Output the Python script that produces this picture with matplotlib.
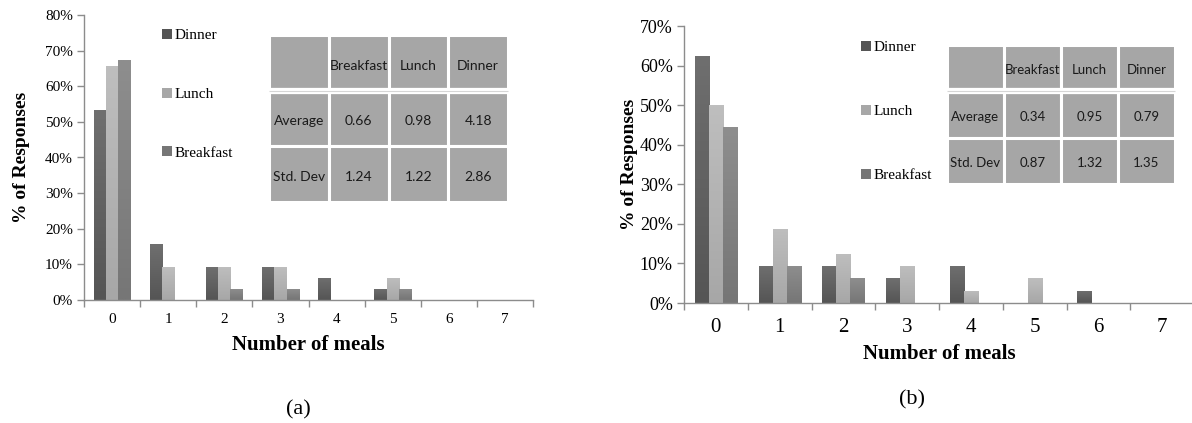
import matplotlib
matplotlib.use("Agg")
import matplotlib.pyplot as plt
from matplotlib.patches import Rectangle
from matplotlib.ticker import FuncFormatter, FixedLocator
import numpy as np

# ---- data -------------------------------------------------------------
meals = [0, 1, 2, 3, 4, 5, 6, 7]
series = ["Dinner", "Lunch", "Breakfast"]

a_dinner = [53.3, 15.6, 9.4, 9.4, 6.3, 3.1, 0, 0]
a_lunch = [65.6, 9.4, 9.4, 9.4, 0, 6.3, 0, 0]
a_breakfast = [67.4, 0, 3.1, 3.1, 0, 3.1, 0, 0]

b_dinner = [62.5, 9.4, 9.4, 6.3, 9.4, 0, 3.1, 0]
b_lunch = [50.0, 18.8, 12.5, 9.4, 3.1, 6.3, 0, 0]
b_breakfast = [44.4, 9.4, 6.3, 0, 0, 0, 0, 0]

table_cols = ["Breakfast", "Lunch", "Dinner"]
table_rows = ["Average", "Std. Dev"]
a_stats = [["0.66", "0.98", "4.18"], ["1.24", "1.22", "2.86"]]
b_stats = [["0.34", "0.95", "0.79"], ["0.87", "1.32", "1.35"]]

# ---- styling ----------------------------------------------------------
W, H = 1192, 423
SERIF = ["Liberation Serif", "DejaVu Serif"]
TABLE_FONT = ["Lato", "DejaVu Sans"]

# (bottom, top) shades of each series' vertical gradient
shades = {
    "Dinner": ("#555555", "#6f6f6f"),
    "Lunch": ("#a7a7a7", "#bebebe"),
    "Breakfast": ("#767676", "#8e8e8e"),
}
axis_grey = "#8c8c8c"

fig = plt.figure(figsize=(W / 100, H / 100), dpi=100)


def px_rect(x0, y_top, x1, y_bottom):
    return [x0 / W, 1 - y_bottom / H, (x1 - x0) / W, (y_bottom - y_top) / H]


def gradient_bars(ax, x, heights, width, name):
    bars = ax.bar(x, heights, width=width, color=shades[name][0], linewidth=0, label=name)
    lo = np.array(matplotlib.colors.to_rgb(shades[name][0]))
    hi = np.array(matplotlib.colors.to_rgb(shades[name][1]))
    t = np.linspace(0, 1, 64)[:, None]
    img = (lo + (hi - lo) * t)[:, None, :]
    for b in bars:
        h = b.get_height()
        if h <= 0:
            continue
        x0 = b.get_x()
        im = ax.imshow(img, extent=(x0, x0 + b.get_width(), 0, h), origin="lower",
                       aspect="auto", zorder=2, interpolation="bilinear")
        im.set_clip_path(b)
    return bars


def draw_chart(rect, data, ymax, tick_fs, xtick_fs, label_fs, xlabel_pad, xtick_pad):
    ax = fig.add_axes(rect)
    w = 0.22
    offsets = [-w, 0, w]
    handles = []
    for name, vals, off in zip(series, data, offsets):
        handles.append(gradient_bars(ax, np.array(meals) + off, vals, w, name))
    ax.set_xlim(-0.5, len(meals) - 0.5)
    ax.set_ylim(0, ymax)
    ax.set_yticks(np.arange(0, ymax + 1, 10))
    ax.yaxis.set_major_formatter(FuncFormatter(lambda v, _: f"{v:.0f}%"))
    ax.set_xticks(meals)
    ax.set_xticklabels([str(m) for m in meals])
    ax.xaxis.set_minor_locator(FixedLocator(np.arange(-0.5, len(meals), 1.0)))
    ax.tick_params(axis="x", which="major", length=0, labelsize=xtick_fs, pad=xtick_pad)
    ax.tick_params(axis="x", which="minor", length=5, width=1, color=axis_grey, direction="out")
    ax.tick_params(axis="y", length=5, width=1, color=axis_grey, labelsize=tick_fs, pad=3)
    for lab in ax.get_xticklabels() + ax.get_yticklabels():
        lab.set_fontfamily(SERIF)
    for s in ("top", "right"):
        ax.spines[s].set_visible(False)
    for s in ("left", "bottom"):
        ax.spines[s].set_color(axis_grey)
        ax.spines[s].set_linewidth(1)
    ax.set_ylabel("% of Responses", fontsize=label_fs, fontweight="bold", family=SERIF)
    ax.set_xlabel("Number of meals", fontsize=label_fs + 1, fontweight="bold", family=SERIF,
                  labelpad=xlabel_pad)
    ax.patch.set_alpha(0)
    return ax, handles


def draw_table(rect, stats, fs):
    tax = fig.add_axes(rect)
    tax.set_xlim(0, 4)
    tax.set_ylim(0, 3)
    tax.axis("off")
    cell = "#a6a6a6"
    labels = [[""] + table_cols] + [[r] + list(v) for r, v in zip(table_rows, stats)]
    for r, row in enumerate(labels):
        y0 = 2 - r
        for c, txt in enumerate(row):
            tax.add_patch(Rectangle((c, y0), 1, 1, facecolor=cell, edgecolor="white",
                                    linewidth=2.2, clip_on=False))
            if txt:
                tax.text(c + 0.5, y0 + 0.45, txt, ha="center", va="center",
                         fontsize=fs, family=TABLE_FONT, color="#1a1a1a")
    # double rule under the header row
    tax.plot([0, 4], [2.0, 2.0], color="white", linewidth=4.5, solid_capstyle="butt", clip_on=False)
    tax.plot([0, 4], [2.0, 2.0], color="#d6d6d6", linewidth=0.8, solid_capstyle="butt", clip_on=False)
    return tax


# ---- panel (a) --------------------------------------------------------
ax_a, h_a = draw_chart(px_rect(84, 15, 533, 300), [a_dinner, a_lunch, a_breakfast],
                       80, 11, 11, 14, 7, 9)
ax_a.yaxis.set_label_coords(-0.12, 0.5)
fig.legend(h_a, series, loc="upper left", bbox_to_anchor=(162 / W, 1 - 29 / H),
           frameon=False, prop={"family": SERIF, "size": 11}, handlelength=0.65,
           handleheight=0.65, handletextpad=0.15, labelspacing=2.95, borderpad=0,
           borderaxespad=0)
draw_table(px_rect(269, 35, 508, 202), a_stats, 10)
fig.text(298 / W, 1 - 410 / H, "(a)", ha="center", va="center", fontsize=16, family=SERIF)

# ---- panel (b) --------------------------------------------------------
ax_b, h_b = draw_chart(px_rect(684, 26, 1194, 303), [b_dinner, b_lunch, b_breakfast],
                       70, 13, 15, 14, 5, 11)
ax_b.yaxis.set_label_coords(-0.09, 0.5)
fig.legend(h_b, series, loc="upper left", bbox_to_anchor=(861 / W, 1 - 41 / H),
           frameon=False, prop={"family": SERIF, "size": 11}, handlelength=0.65,
           handleheight=0.65, handletextpad=0.15, labelspacing=3.3, borderpad=0,
           borderaxespad=0)
draw_table(px_rect(947, 45, 1175, 184), b_stats, 9.5)
fig.text(912 / W, 1 - 400 / H, "(b)", ha="center", va="center", fontsize=16, family=SERIF)

fig.savefig("out.png", dpi=100, facecolor="white")
